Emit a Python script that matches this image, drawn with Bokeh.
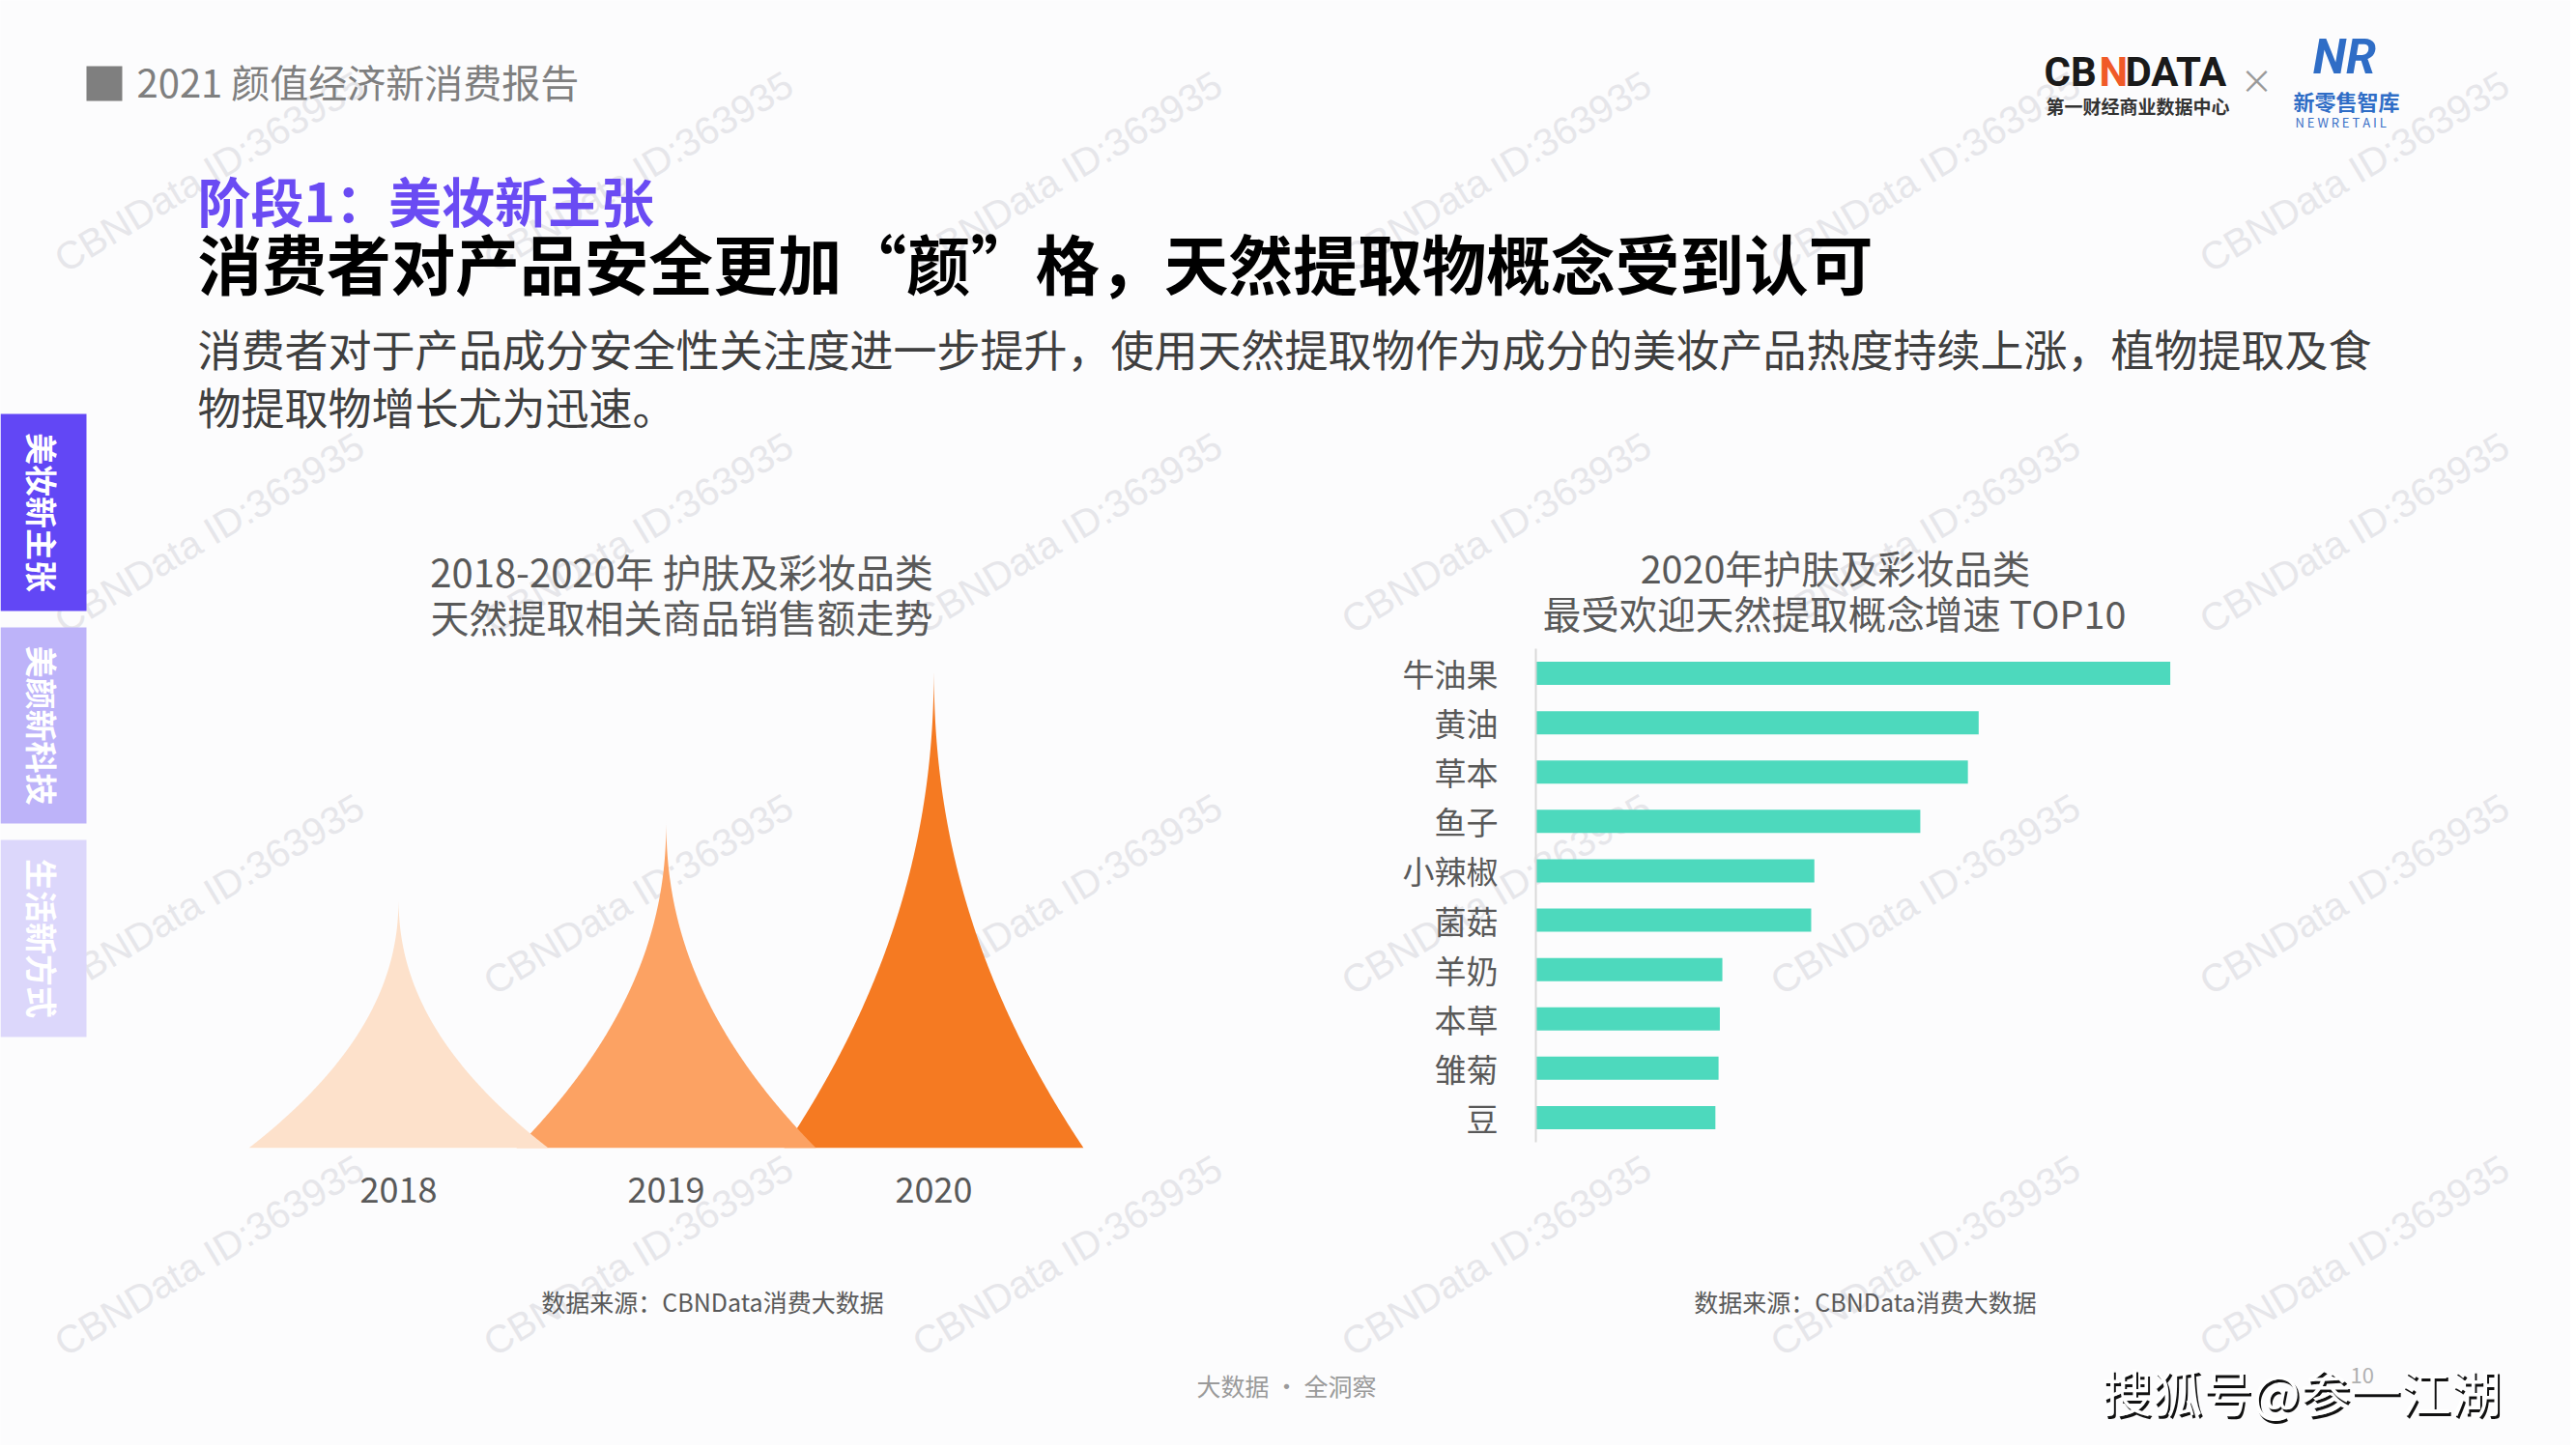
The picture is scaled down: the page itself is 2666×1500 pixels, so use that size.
import numpy as np
from bokeh.plotting import figure
from bokeh.models import Range1d, FactorRange, FixedTicker, GridBox
from bokeh.core.properties import value
from bokeh.embed import file_html
from bokeh.resources import INLINE

# ---------------- data ----------------
years = ["2018", "2019", "2020"]
sales_index = [52, 68, 100]            # relative sales (2020 = 100), read from spike heights
year_colors = ["#FDE1CB", "#FCA263", "#F57A22"]

concepts = ["牛油果", "黄油", "草本", "鱼子", "小辣椒", "菌菇", "羊奶", "本草", "雏菊", "豆"]
growth_index = [100, 69.8, 68.1, 60.6, 43.9, 43.4, 29.4, 29.0, 28.8, 28.3]  # relative growth (牛油果 = 100)
bar_color = "#4DD9BD"

section_tabs = ["美妆新主张", "美颜新科技", "生活新方式"]
tab_colors = ["#6247F5", "#BDB3F9", "#DCD7FB"]

report_title = "2021 颜值经济新消费报告"
stage_title = "阶段1：美妆新主张"
headline = "消费者对产品安全更加“颜”格，天然提取物概念受到认可"
desc_lines = ["消费者对于产品成分安全性关注度进一步提升，使用天然提取物作为成分的美妆产品热度持续上涨，植物提取及食",
              "物提取物增长尤为迅速。"]
left_title = ["2018-2020年 护肤及彩妆品类", "天然提取相关商品销售额走势"]
right_title = ["2020年护肤及彩妆品类", "最受欢迎天然提取概念增速 TOP10"]
source_note = "数据来源：CBNData消费大数据"
footer_note = "大数据 · 全洞察"
watermark = "CBNData ID:363935"
sohu_mark = "搜狐号@参一江湖"
page_no = "10"

# ---------------- style ----------------
FONT = "Noto Sans CJK SC"
BG = "#FCFCFD"
PAGE_W, PAGE_H = 2660, 1496
TEXT_DY = -4   # small correction for CJK "middle" baseline

canvas = figure(width=PAGE_W, height=PAGE_H,
                x_range=Range1d(0, PAGE_W), y_range=Range1d(PAGE_H, 0),
                x_axis_location=None, y_axis_location=None, toolbar_location=None,
                output_backend="svg", min_border=0)
canvas.xgrid.visible = False
canvas.ygrid.visible = False
canvas.outline_line_color = None
canvas.background_fill_color = BG
canvas.border_fill_color = BG


def txt(p, x, y, s, size, color, align="left", style="normal", font=FONT, angle=0.0, alpha=1.0):
    dy = TEXT_DY if angle == 0.0 else 0
    p.text(x=[x], y=[y + dy], text=[s], text_font=value(font), text_font_size=f"{size}px",
           text_color=color, text_align=align, text_baseline="middle",
           text_font_style=style, angle=angle, text_alpha=alpha)


# watermarks (under everything)
wx, wy = [], []
for m in range(4):
    for k in range(6):
        wx.append(216 + 444 * k)
        wy.append(177 + 374 * m)
canvas.text(x=wx, y=wy, text=[watermark] * len(wx), angle=0.54,
            text_font=value("Liberation Sans"), text_font_size="40px",
            text_color="#E6E6EA", text_align="center", text_baseline="middle")

# header
canvas.quad(left=[89], right=[126], top=[68], bottom=[104], fill_color="#7F7F7F", line_color=None)
txt(canvas, 141, 87, report_title, 40, "#7F7F7F")
txt(canvas, 204, 209, stage_title, 55, "#6A4BF3", style="bold")
txt(canvas, 204, 274, headline, 66.7, "#000000", style="bold")
txt(canvas, 204, 364, desc_lines[0], 45, "#3F3F3F")
txt(canvas, 204, 424, desc_lines[1], 45, "#3F3F3F")

# logos
txt(canvas, 2115, 78, "CB", 42, "#1A1A1A", style="bold", font="Roboto")
txt(canvas, 2172, 78, "N", 42, "#F05A28", style="bold", font="Roboto")
txt(canvas, 2199, 78, "DATA", 42, "#1A1A1A", style="bold", font="Roboto")
txt(canvas, 2117, 113, "第一财经商业数据中心", 19, "#333333", style="bold")
txt(canvas, 2335, 86, "×", 34, "#9A9A9A", align="center")
txt(canvas, 2426, 62, "NR", 50, "#2F6DC6", align="center", style="bold italic", font="Roboto")
txt(canvas, 2373, 107, "新零售智库", 22, "#2F6DC6", style="bold")
txt(canvas, 2375, 130, "N E W R E T A I L", 13, "#3A6FC6")

# side tabs
tab_top = [428, 649, 869]
tab_bot = [632, 852, 1073]
canvas.quad(left=[0] * 3, right=[89] * 3, top=tab_top, bottom=tab_bot,
            fill_color=tab_colors, line_color=None)
for t, a, b in zip(section_tabs, tab_top, tab_bot):
    txt(canvas, 43, (a + b) / 2, t, 33, "#FFFFFF", align="center", style="bold", angle=-np.pi / 2)

# chart titles
txt(canvas, 705, 594, left_title[0], 40, "#595959", align="center")
txt(canvas, 705, 641, left_title[1], 40, "#595959", align="center")
txt(canvas, 1899, 590, right_title[0], 39.5, "#595959", align="center")
txt(canvas, 1898, 637, right_title[1], 39.5, "#595959", align="center")

# sources & footer
txt(canvas, 737, 1350, source_note, 25, "#595959", align="center")
txt(canvas, 1930, 1350, source_note, 25, "#595959", align="center")
txt(canvas, 1331, 1437, footer_note, 25, "#9A9A9A", align="center")
txt(canvas, 2432, 1427, page_no, 22, "#B0B0B0")
txt(canvas, 2177, 1446, sohu_mark, 52, "#111111")
txt(canvas, 2175, 1443, sohu_mark, 52, "#FFFFFF")

# ---------------- chart C : spikes ----------------
UNIT_PX = 277.0      # px between year categories
X0_PAGE = 412.0      # page x of first category
C_LEFT, C_RIGHT = 200, 1180
C_TOP, C_BASE = 620, 1188
PX_PER_VAL = 4.99

chartC = figure(width=C_RIGHT - C_LEFT, height=650,
                x_range=Range1d((C_LEFT - X0_PAGE) / UNIT_PX, (C_RIGHT - X0_PAGE) / UNIT_PX),
                y_range=Range1d(0, (C_BASE - C_TOP) / PX_PER_VAL),
                y_axis_location=None, toolbar_location=None, output_backend="svg",
                min_border_left=0, min_border_right=0, min_border_top=0, min_border_bottom=82)
half_w = 155.0 / UNIT_PX
hh = np.linspace(0, 1, 160)
xs, ys = [], []
for i, v in enumerate(sales_index):
    w = half_w * (1 - hh) ** 2.15
    xs.append(list(np.concatenate([i - w, (i + w)[::-1]])))
    ys.append(list(np.concatenate([v * hh, (v * hh)[::-1]])))
order = list(range(len(years)))[::-1]
chartC.patches(xs=[xs[j] for j in order], ys=[ys[j] for j in order],
               fill_color=[year_colors[j] for j in order], line_color=None)
chartC.xaxis.ticker = FixedTicker(ticks=list(range(len(years))))
chartC.xaxis.major_label_overrides = {i: y for i, y in enumerate(years)}
chartC.xaxis.axis_line_color = None
chartC.xaxis.major_tick_line_color = None
chartC.xaxis.minor_tick_line_color = None
chartC.xaxis.major_label_standoff = 24
chartC.xaxis.major_label_text_font = FONT
chartC.xaxis.major_label_text_font_size = "36px"
chartC.xaxis.major_label_text_color = "#595959"
chartC.xgrid.visible = False
chartC.ygrid.visible = False
chartC.outline_line_color = None
chartC.background_fill_color = None
chartC.border_fill_color = None

# ---------------- chart D : horizontal bars ----------------
D_PX_PER_VAL = 6.566
chartD = figure(width=1040, height=540,
                y_range=FactorRange(factors=concepts[::-1]),
                x_range=Range1d(0, 722 / D_PX_PER_VAL),
                x_axis_location=None, toolbar_location=None, output_backend="svg",
                min_border_left=209, min_border_right=109, min_border_top=11, min_border_bottom=18)
chartD.hbar(y=concepts, left=0, right=growth_index, height=0.47,
            fill_color=bar_color, line_color=None)
chartD.yaxis.axis_line_color = "#D9D9D9"
chartD.yaxis.axis_line_width = 2
chartD.yaxis.major_tick_line_color = None
chartD.yaxis.minor_tick_line_color = None
chartD.yaxis.major_label_standoff = 33
chartD.yaxis.major_label_text_font = FONT
chartD.yaxis.major_label_text_font_size = "33px"
chartD.yaxis.major_label_text_color = "#595959"
chartD.xgrid.visible = False
chartD.ygrid.visible = False
chartD.outline_line_color = None
chartD.background_fill_color = None
chartD.border_fill_color = None

layout = GridBox(children=[(canvas, 0, 0, 5, 5), (chartC, 1, 1, 3, 1), (chartD, 2, 3, 1, 1)],
                 rows=["620px", "40px", "540px", "70px", "226px"],
                 cols=["200px", "980px", "200px", "1040px", "240px"])

open("out.html", "w").write(file_html(layout, INLINE))
